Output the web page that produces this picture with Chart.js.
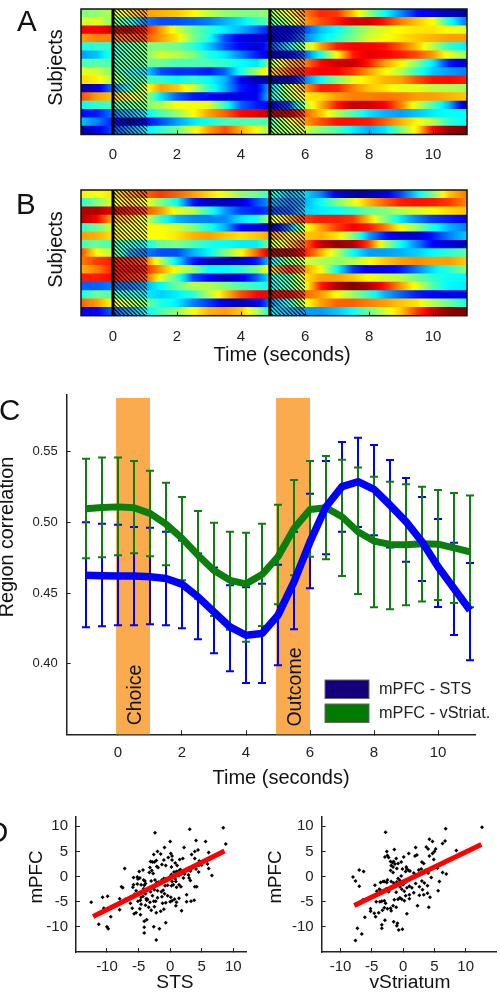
<!DOCTYPE html>
<html>
<head>
<meta charset="utf-8">
<title>Region correlation</title>
<script src="https://cdn.jsdelivr.net/npm/chart.js@4/dist/chart.umd.min.js"></script>
<style>
html, body { margin: 0; padding: 0; background: #fff; overflow: hidden; }
#page { position: relative; width: 500px; height: 995px; overflow: hidden; font-family: "Liberation Sans", sans-serif; }
canvas { position: absolute; }
.letter { position: absolute; font-size: 29.5px; line-height: 29.5px; color: #111; }
</style>
</head>
<body>
<div id="page">
	<canvas id="panel-a" width="500" height="175" style="left:0;top:0"></canvas>
	<canvas id="panel-b" width="500" height="195" style="left:0;top:175px"></canvas>
	<canvas id="panel-c" width="500" height="410" style="left:0;top:385px"></canvas>
	<canvas id="panel-d1" width="250" height="195" style="left:0;top:800px"></canvas>
	<canvas id="panel-d2" width="250" height="195" style="left:250px;top:800px"></canvas>
	<div class="letter" style="left:17px;top:6px">A</div>
	<div class="letter" style="left:16px;top:189px">B</div>
	<div class="letter" style="left:-1px;top:395px">C</div>
	<div class="letter" style="left:-13px;top:817px">D</div>
</div>
<script>
// each row: colour level 0-1 read every 0.5 s from -1 to 11
const rowsA = [
	[.5,.52,.55,.66,.72,.7,.68,.63,.56,.52,.5,.5,.53,.62,.75,.84,.82,.68,.52,.38,.26,.14,.1,.06,.04],
	[.58,.6,.5,.42,.25,.2,.2,.22,.25,.3,.35,.42,.47,.55,.72,.8,.85,.92,.92,.85,.75,.68,.62,.4,.25],
	[.88,.88,.92,.93,.85,.72,.58,.48,.42,.36,.3,.22,.12,.12,.2,.32,.38,.48,.55,.6,.63,.65,.65,.62,.6],
	[.72,.75,.75,.78,.8,.72,.65,.5,.4,.2,.1,.08,.1,.14,.25,.35,.42,.5,.58,.62,.65,.68,.7,.72,.72],
	[.4,.42,.42,.45,.5,.5,.48,.42,.32,.2,.12,.08,.2,.35,.55,.72,.85,.88,.88,.86,.78,.68,.55,.42,.36],
	[.28,.32,.42,.47,.5,.58,.55,.5,.4,.35,.25,.15,.08,.12,.22,.4,.62,.85,.9,.88,.85,.8,.72,.6,.53],
	[.45,.46,.46,.47,.48,.48,.45,.45,.45,.42,.38,.35,.55,.7,.75,.87,.92,.93,.85,.72,.63,.5,.35,.15,.08],
	[.6,.58,.5,.4,.35,.2,.17,.17,.15,.22,.4,.55,.68,.78,.85,.88,.88,.82,.72,.63,.55,.42,.32,.28,.25],
	[.66,.64,.55,.45,.45,.42,.38,.42,.38,.3,.12,.04,.06,.08,.25,.38,.5,.6,.65,.7,.72,.8,.86,.87,.85],
	[.03,.08,.25,.4,.6,.72,.68,.58,.42,.3,.15,.1,.35,.58,.72,.85,.84,.75,.68,.65,.6,.6,.56,.55,.53],
	[.8,.72,.68,.65,.55,.35,.22,.15,.13,.1,.1,.12,.38,.55,.65,.66,.72,.75,.75,.76,.75,.72,.72,.7,.68],
	[.38,.42,.44,.47,.5,.55,.62,.62,.6,.42,.22,.15,.12,.2,.55,.7,.85,.93,.92,.88,.75,.58,.45,.3,.06],
	[.13,.15,.25,.3,.36,.45,.52,.62,.72,.78,.87,.9,.95,.93,.78,.68,.55,.45,.35,.3,.28,.32,.36,.38,.38],
	[.32,.25,.15,.05,.12,.2,.28,.35,.4,.44,.45,.45,.45,.6,.72,.8,.86,.86,.85,.78,.7,.63,.55,.42,.38],
	[.03,.1,.2,.27,.35,.42,.48,.6,.72,.8,.7,.62,.5,.55,.58,.5,.45,.36,.3,.35,.5,.65,.88,.97,1]
]
const rowsB = [
	[.64,.62,.65,.72,.78,.82,.78,.72,.66,.6,.52,.48,.42,.3,.34,.25,.1,.05,.05,.1,.2,.35,.5,.68,.75],
	[.42,.5,.6,.68,.62,.5,.38,.15,.06,.06,.08,.2,.3,.25,.3,.38,.5,.6,.7,.78,.85,.86,.85,.82,.75],
	[.95,.95,.9,.86,.8,.72,.6,.55,.42,.28,.18,.15,.2,.22,.33,.36,.38,.42,.48,.5,.55,.58,.62,.66,.68],
	[.95,.88,.7,.68,.6,.42,.3,.26,.25,.26,.35,.4,.6,.7,.82,.85,.85,.82,.68,.5,.35,.25,.18,.15,.12],
	[.42,.48,.58,.62,.62,.62,.58,.5,.4,.3,.12,.08,.08,.25,.6,.72,.82,.88,.85,.75,.62,.52,.4,.3,.25],
	[.72,.7,.65,.63,.62,.62,.65,.7,.72,.68,.65,.68,.72,.65,.68,.7,.65,.5,.28,.15,.08,.08,.15,.25,.32],
	[.45,.47,.45,.42,.38,.48,.5,.45,.4,.38,.36,.36,.55,.68,.78,.93,.98,.95,.8,.55,.38,.25,.12,.08,.06],
	[.8,.62,.55,.3,.25,.2,.2,.3,.37,.5,.62,.78,.95,.95,.85,.7,.55,.38,.28,.28,.3,.33,.38,.42,.46],
	[.75,.82,.85,.84,.78,.55,.35,.15,.06,.05,.08,.15,.38,.5,.58,.55,.52,.55,.62,.68,.72,.74,.72,.72,.68],
	[.7,.75,.85,.88,.85,.72,.6,.52,.38,.38,.42,.5,.68,.82,.72,.62,.38,.18,.1,.1,.15,.25,.35,.42,.5],
	[.85,.85,.87,.82,.8,.6,.45,.2,.12,.06,.1,.22,.4,.45,.65,.72,.72,.68,.62,.58,.55,.48,.42,.38,.37],
	[.22,.22,.25,.25,.3,.38,.48,.55,.55,.5,.45,.42,.38,.45,.6,.85,.95,1,.95,.85,.72,.6,.45,.37,.36],
	[.4,.48,.45,.4,.36,.33,.36,.42,.55,.68,.8,.87,.88,.88,.78,.72,.62,.52,.42,.3,.22,.15,.12,.1,.1],
	[.78,.72,.62,.58,.5,.4,.36,.25,.18,.1,.05,.1,.28,.4,.6,.72,.78,.78,.75,.72,.68,.65,.55,.48,.4],
	[.1,.12,.22,.28,.36,.45,.52,.62,.7,.72,.68,.55,.35,.3,.28,.28,.32,.38,.48,.58,.68,.82,.92,.98,1]
]
const subjects = ["1","2","3","4","5","6","7","8","9","10","11","12","13","14","15"]
const heatStart = -1
const heatStep = 0.5
const heatEnd = 11.06
const heatTicks = [0,2,4,6,8,10]
const eventLines = [0, 4.9]
const hatchSpans = [[0, 1.07], [4.9, 6]]

const times = [-1,-0.5,0,0.5,1,1.5,2,2.5,3,3.5,4,4.5,5,5.5,6,6.5,7,7.5,8,8.5,9,9.5,10,10.5,11]
const stsMean = [.4626,.4622,.462,.462,.4615,.4603,.4563,.4473,.4366,.426,.4201,.4213,.4343,.4579,.4863,.5111,.5253,.5288,.5234,.5123,.5005,.4863,.4686,.4532,.4378]
const stsUpper = [.5002,.4991,.4983,.4967,.4962,.4934,.4872,.478,.468,.4556,.4541,.4565,.47,.4934,.5203,.5435,.557,.56,.5548,.5442,.5314,.518,.5024,.4856,.4712]
const stsLower = [.4258,.4265,.4272,.4272,.4279,.4272,.4251,.4173,.4073,.3946,.3863,.3863,.3988,.4243,.4534,.4775,.4934,.4967,.491,.4823,.4721,.4586,.4402,.4203,.4024]
const vsMean = [.5097,.5106,.511,.5104,.5064,.4988,.4887,.4768,.466,.459,.4565,.4631,.4757,.4957,.5092,.5104,.504,.4934,.4868,.4844,.4842,.4849,.4846,.482,.4792]
const vsUpper = [.545,.546,.546,.5435,.5366,.528,.518,.508,.4998,.4934,.4927,.499,.5125,.53,.5435,.547,.5444,.5388,.5324,.5288,.527,.5253,.523,.5208,.519]
const vsLower = [.4747,.4754,.4768,.4782,.476,.4697,.459,.446,.4338,.424,.4155,.4267,.442,.4626,.4757,.474,.462,.4494,.44,.4385,.4414,.444,.445,.443,.44]
const bandSpans = [[-0.06, 1], [4.94, 6]]
const bandLabels = ["Choice", "Outcome"]
const corrXTicks = [0,2,4,6,8,10]
const corrYTicks = [0.4,0.45,0.5,0.55]
const legendLabels = ["mPFC - STS", "mPFC - vStriat."]
const legendColors = ["#14007f", "#027a02"]

const stsPoints = [[-12.5,-5.1],[-10.7,-4.1],[-9.9,-3.9],[-10.5,-6.3],[-11.3,-9.5],[-10,-10],[-9.8,-10.4],[-9.4,-8],[-8,-4.4],[-7.5,-2.2],[-7.7,-2],[-7.2,1.6],[-8,-6.6],[-7.1,-4.5],[-6.3,-5.3],[-6,-6.3],[-5.7,-7.4],[-5.4,-7.2],[-4.7,-7.6],[-4.8,-6.4],[-4.1,-8.9],[-3.7,-8.6],[-4.1,-10.1],[-4.1,-11.2],[-2.6,-10],[-2.2,-12.6],[-1.7,-10.4],[-0.7,-9.2],[-2.4,8.7],[3.1,9.4],[8.4,9.7],[8.8,6.5],[0,7],[4.1,7.2],[5.6,7],[6.1,4.8],[6.6,0.2],[6.1,1.6],[5.9,2.5],
	[-4.9,1],[-4.3,1.3],[-5.8,-0.2],[-5.2,-0.1],[-5.1,-0.5],[-4.8,-0.3],[-5.8,-1.6],[-5.2,-1.5],[-4.6,-1.6],[-4.2,-0.7],[-4,-0.9],[-3.9,-1.4],[-4.1,-1.7],[-4.2,-2.4],[-4,-3],[-3.9,-3.4],[-4.3,-3.9],[-4.6,-4.1],[-3.8,-4.4],[-3.7,-4.7],[-3.2,-5.1],[-3.9,-5.7],[-3.4,-6.1],[-3,-6.7],[-2.5,-6],[-2.2,-7.2],[-1.5,-6.9],[-4.6,-5.5],
	[-3.1,3],[-2.8,2.9],[-2.5,2.9],[-2.2,3.2],[-2.6,4.4],[-2,5],[-1.5,4.5],[-1,3.3],[-1.3,2.4],[-0.7,2.2],[-0.9,5.8],[-2.1,2],[-1.9,1.8],[-3.2,1.8],[-3.3,0.8],[-2.9,1.2],[-2.7,0.6],[-3,-0.9],[-2.4,-0.7],[-2.1,-1.2],[-1.8,-1.1],[-1.3,-0.7],[-1,-0.4],[-0.7,-0.5],[-0.3,-0.3],[0,0],[0.2,0.4],[0.5,-0.1],[0.7,0.2],[1,0.6],[1.2,0.9],[1.4,1.1],[1.6,1.4],[0.8,-0.5],[-0.3,3.8],[0.1,4.6],[0.3,4.1],[0.3,3.3],[0.8,2.7],[1.1,2.2],[1.5,3.4],[2,3.6],[2.2,5.8],[3.2,1.1],[3.6,1.8],[3.4,4.4],[3.9,5],[4.4,5.3],[3.9,3.6],[4.6,3.1],[4.6,2.3],[5,2.3],[4.1,1.5],[4.5,0.9],[3,-0.3],[2.9,0.3],[2.3,0.5],[3.2,-0.8],
	[-2.5,-2.6],[-3.1,-3],[-2.9,-2.1],[-2,-2.8],[-1.4,-3],[-0.9,-3.4],[-1.1,-2.7],[-0.8,-1.8],[-0.4,-1.7],[0.2,-1.8],[0.5,-1.6],[1,-2.1],[1.4,-1.6],[1.7,-2],[0.1,-4.1],[0.3,-4.8],[0.7,-4.5],[1,-5.1],[1.4,-4.3],[1.8,-6.8],[2.6,-3.6],[2.6,-5],[3.3,-4.9],[3.8,-4.7],[0.9,-5.8],[0,-5],[-1.2,-5.3],[-2.3,-4.9],[-0.7,-5.2],[-1,-6.5],[-2.6,-4.9],[-3.6,-4.5],[3.9,-2],[4.2,-2],[-1.3,-4],[-0.4,-3.8],[-5.9,-2.1],[-6.2,-4],[-5.6,-3.5],[-5.1,-4.9],[-4.7,-4.7],[-5.4,-2.8],[-2.8,-3.8],[-2,-4.2],[1,1],[0.6,0.9],[0.2,1.9],[1.4,0.2],[2.1,-0.3],[1.7,0.5],[0.9,-1],[0.3,-1]]
const vsPoints = [[-8,-0.1],[-7.6,-0.9],[-7,-1.9],[-7,1.3],[-6.3,1],[-6.4,-4.6],[-6.1,-8.1],[-7.3,-10.3],[-6.6,-11.4],[-7.6,-12.7],[-2.8,8.8],[12.6,9.8],[6.8,9.5],[6.7,7.1],[6.3,6.6],[8.5,5.2],[4.2,7.4],[4.7,7],[6.9,0.5],[6.3,0.8],[5.5,1.7],[5.8,-1],[5.6,-2.8],[4.1,-6.1],[4.3,-4.1],[2.3,-5.8],[0.6,-7.4],[-0.1,-10.5],[-0.7,-10.6],[-1,-9.8],[-0.9,-9.3],[-1.5,-9],[-3.4,-9.6],[-3.4,-10.3],[-2.9,-8.7],
	[-5.2,-6.4],[-5.2,-6.9],[-4.6,-7.3],[-4.4,-8],[-3.9,-7.2],[-5.2,-4.2],[-5,-4],[-4.5,-1.7],[-4.2,-2.9],[-3.8,-2.5],[-3.6,-1.2],[-3.2,-1],[-3,-1],[-2.6,-1.2],[-2.5,-0.7],[-3.5,-3],[-3.1,-2.8],[-2.7,-2.4],[-4.3,-5],[-3.7,-5],[-3.4,-4.9],[-3,-4.8],[-2.8,-5.3],[-2,-6.3],[-1.9,-6.8],[-2.5,-6.4],[-3.3,-6.7],[-3,-6.2],[-1.6,-5.8],[-1.1,-6.1],[-1.4,-4.6],[-0.8,-4.5],[-0.5,-4.2],[-0.2,-4.5],[0.2,-4.8],[1,-4.4],[1,-3.6],[2.6,-3.7],[3.3,-3.6],[3.9,-3.3],
	[-2.9,3.9],[-2.5,4.2],[-2.6,5],[-2.3,3.8],[-2,3],[-1.7,2.8],[-1.5,3],[-1.9,2.2],[-1.6,1.9],[-1.3,2.5],[-1.4,5.4],[-1.1,3.6],[-0.8,2.6],[-0.3,2.9],[0.1,3.9],[0.9,4.6],[0.5,1.9],[0.6,1.5],[0.9,1.2],[1.1,1.1],[0.4,1],[-0.1,1.5],[-2,1.2],[-1.6,0.8],[-1,1.6],[2,5.8],[2.2,4.3],[1.9,4.1],[3,2.9],[3.3,2.6],[3.7,5.9],[4,5.5],[4.7,4.6],[5,5],[5.2,5.5],[4.2,4.1],[4.9,3.4],[2.5,1.3],[2.9,1.5],[3.4,0.8],[3.5,1.2],[4,0.7],[4.5,-0.2],[2,0.3],[1.7,0.7],
	[-1.9,-1],[-1.5,-1.3],[-1,-1.1],[-0.8,-0.4],[-0.5,-0.8],[-0.3,-1.2],[0,-1.6],[0.2,-1.3],[0.5,-1],[-0.5,-2],[-0.2,-2.5],[0.2,-2.9],[0.6,-2.2],[1,-1.9],[1.4,-2.2],[2,-1.4],[2.6,-2],[3.1,-2.6],[1.7,-3.2],[0.4,-3.8],[-1.1,-3.1],[-1.8,-2.2],[3,-0.9],[3.9,-1.8],[3.4,-1.3],[-3.6,-2.7],[-2.3,-3],[-0.3,0.1]]
const stsFitX = [-12.2, 8.6]
const stsFitY = [-7.95, 5.1]
const vsFitX = [-7.8, 12.5]
const vsFitY = [-5.76, 6.4]
const scatterXTicks = [-10,-5,0,5,10]
const scatterYTicks = [-10,-5,0,5,10]

const FONT = '"Liberation Sans", sans-serif'
const TICK_COLOR = "#222"

// matlab style jet colormap
function jet(v) {
	const c = (x) => Math.round(255 * Math.max(0, Math.min(1, x)))
	const r = c(1.5 - Math.abs(4 * v - 3))
	const g = c(1.5 - Math.abs(4 * v - 2))
	const b = c(1.5 - Math.abs(4 * v - 1))
	return `rgb(${r},${g},${b})`
}

function rowGradient(chart, row) {
	const xs = chart.scales.x
	if (!xs) return "#000"
	const x0 = xs.getPixelForValue(heatStart)
	const x1 = xs.getPixelForValue(heatStart + heatStep * (row.length - 1))
	// the scale has no size yet on the very first pass
	if (!isFinite(x0) || !isFinite(x1)) return "#000"
	const grad = chart.ctx.createLinearGradient(x0, 0, x1, 0)
	for (let i = 0; i < row.length - 1; i++) {
		// several stops per step so the colours follow the jet path
		for (let k = 0; k < 5; k++) {
			const f = k / 5
			grad.addColorStop((i + f) / (row.length - 1), jet(row[i] + (row[i + 1] - row[i]) * f))
		}
	}
	grad.addColorStop(1, jet(row[row.length - 1]))
	return grad
}

function hatchPattern(ctx) {
	const p = document.createElement("canvas")
	p.width = 4
	p.height = 4
	const pc = p.getContext("2d")
	pc.fillStyle = "rgba(0,0,0,0.72)"
	for (let i = 0; i < 4; i++) {
		pc.fillRect(i, i, 1, 1)
		pc.fillRect((i + 1) % 4, i, 1, 1)
	}
	return ctx.createPattern(p, "repeat")
}

// the tick padding would otherwise push the plot area in by a lot
function fixAxis(s, size) {
	if (s.isHorizontal()) s.height = size
	else s.width = size
	s.paddingTop = 0
	s.paddingBottom = 0
	s.paddingLeft = 0
	s.paddingRight = 0
}

// axis titles sit off centre in the original, so they are placed by hand
function titlesPlugin(items) {
	return {
		id: "titles",
		afterDraw(chart) {
			const ctx = chart.ctx
			ctx.save()
			ctx.fillStyle = "#111"
			ctx.textAlign = "center"
			ctx.textBaseline = "middle"
			items.forEach(t => {
				ctx.save()
				ctx.font = `${t.size}px ${FONT}`
				ctx.translate(t.x, t.y)
				if (t.rotate) ctx.rotate(-Math.PI / 2)
				ctx.fillText(t.text, 0, 0)
				ctx.restore()
			})
			ctx.restore()
		}
	}
}

// hatched windows, event lines and the frame on top of the heat rows
const heatOverlay = {
	id: "heatOverlay",
	afterDatasetsDraw(chart) {
		const { ctx, chartArea: a, scales: { x } } = chart
		ctx.save()
		ctx.fillStyle = hatchPattern(ctx)
		hatchSpans.forEach(s => {
			const l = x.getPixelForValue(s[0])
			ctx.fillRect(l, a.top, x.getPixelForValue(s[1]) - l, a.bottom - a.top)
		})
		ctx.fillStyle = "#000"
		eventLines.forEach(t => {
			ctx.fillRect(x.getPixelForValue(t) - 1.5, a.top, 3, a.bottom - a.top)
		})
		ctx.strokeStyle = "#111"
		ctx.lineWidth = 1.5
		ctx.strokeRect(a.left, a.top, a.right - a.left, a.bottom - a.top)
		ctx.restore()
	}
}

function heatChart(id, rows, opts) {
	return new Chart(document.getElementById(id).getContext("2d"), {
		type: "bar",
		data: {
			labels: subjects,
			datasets: [{
				data: rows.map(() => [heatStart, heatEnd]),
				backgroundColor: (c) => rowGradient(c.chart, rows[c.dataIndex]),
				barPercentage: 1,
				categoryPercentage: 1,
				borderWidth: 0
			}]
		},
		plugins: [heatOverlay, titlesPlugin(opts.titles)],
		options: {
			indexAxis: "y",
			responsive: false,
			animation: false,
			layout: { padding: { top: opts.top, right: 33, left: 0, bottom: 0 } },
			plugins: { legend: { display: false }, tooltip: { enabled: false } },
			scales: {
				x: {
					type: "linear",
					min: heatStart,
					max: heatEnd,
					afterBuildTicks: s => { s.ticks = heatTicks.map(value => ({ value })) },
					afterFit: s => fixAxis(s, opts.axisHeight),
					border: { display: false },
					grid: { drawOnChartArea: false, tickLength: -4, tickColor: "#111", z: 1, tickWidth: 1 },
					ticks: { font: { family: FONT, size: 15 }, color: TICK_COLOR, padding: opts.tickPad, maxRotation: 0, autoSkip: false }
				},
				y: {
					type: "category",
					afterFit: s => fixAxis(s, 81),
					border: { display: false },
					grid: { display: false },
					ticks: { display: false }
				}
			}
		}
	})
}

heatChart("panel-a", rowsA, {
	top: 9, axisHeight: 40.5, tickPad: 15,
	titles: [{ text: "Subjects", x: 56, y: 67.5, size: 20, rotate: true }]
})
heatChart("panel-b", rowsB, {
	top: 15, axisHeight: 54.3, tickPad: 16,
	titles: [
		{ text: "Subjects", x: 56, y: 74.5, size: 20, rotate: true },
		{ text: "Time (seconds)", x: 282, y: 180, size: 20 }
	]
})

// orange bands and error bars sit under the two thick lines
const corrUnderlay = {
	id: "corrUnderlay",
	beforeDatasetsDraw(chart) {
		const { ctx, scales: { x, y } } = chart
		ctx.save()
		ctx.fillStyle = "#f9ab4e"
		bandSpans.forEach(s => {
			const l = x.getPixelForValue(s[0])
			ctx.fillRect(l, 13, x.getPixelForValue(s[1]) - l, chart.chartArea.bottom - 13)
		})
		ctx.fillStyle = "#111"
		ctx.font = `19.5px ${FONT}`
		ctx.textAlign = "center"
		ctx.textBaseline = "middle"
		const labelY = [310, 302]
		bandLabels.forEach((t, i) => {
			const cx = x.getPixelForValue((bandSpans[i][0] + bandSpans[i][1]) / 2)
			ctx.save()
			ctx.translate(cx + 3, labelY[i])
			ctx.rotate(-Math.PI / 2)
			ctx.fillText(t, 0, 0)
			ctx.restore()
		})
		const drawBars = (upper, lower, color) => {
			ctx.strokeStyle = color
			ctx.lineWidth = 2
			times.forEach((t, i) => {
				const px = x.getPixelForValue(t)
				const hi = y.getPixelForValue(upper[i])
				const lo = y.getPixelForValue(lower[i])
				ctx.beginPath()
				ctx.moveTo(px, hi)
				ctx.lineTo(px, lo)
				ctx.moveTo(px - 4, hi)
				ctx.lineTo(px + 4, hi)
				ctx.moveTo(px - 4, lo)
				ctx.lineTo(px + 4, lo)
				ctx.stroke()
			})
		}
		drawBars(stsUpper, stsLower, "#0000ff")
		drawBars(vsUpper, vsLower, "#0b7f0b")
		ctx.restore()
	},
	afterDatasetsDraw(chart) {
		const { ctx } = chart
		ctx.save()
		const boxLeft = 325
		const tops = [295, 319]
		legendLabels.forEach((t, i) => {
			ctx.fillStyle = legendColors[i]
			ctx.fillRect(boxLeft, tops[i], 44, 18.5)
			ctx.strokeStyle = "#666"
			ctx.lineWidth = 1
			ctx.strokeRect(boxLeft, tops[i], 44, 18.5)
			ctx.fillStyle = "#222"
			ctx.font = `16.3px ${FONT}`
			ctx.textAlign = "left"
			ctx.textBaseline = "middle"
			ctx.fillText(t, 379, tops[i] + 10)
		})
		ctx.restore()
	}
}

new Chart(document.getElementById("panel-c").getContext("2d"), {
	type: "line",
	data: {
		labels: times,
		datasets: [{
			label: legendLabels[0],
			data: times.map((t, i) => ({ x: t, y: stsMean[i] })),
			borderColor: "#0000ff",
			borderWidth: 7.5,
			pointRadius: 0,
			tension: 0,
			borderJoinStyle: "round"
		}, {
			label: legendLabels[1],
			data: times.map((t, i) => ({ x: t, y: vsMean[i] })),
			borderColor: "#0b7f0b",
			borderWidth: 7,
			pointRadius: 0,
			tension: 0,
			borderJoinStyle: "round"
		}]
	},
	plugins: [corrUnderlay, titlesPlugin([
		{ text: "Region correlation", x: 8, y: 152, size: 19.8, rotate: true },
		{ text: "Time (seconds)", x: 281, y: 393, size: 20 }
	])],
	options: {
		responsive: false,
		animation: false,
		layout: { padding: { top: 10, right: 25, left: 0, bottom: 0 } },
		plugins: { legend: { display: false }, tooltip: { enabled: false } },
		scales: {
			x: {
				type: "linear",
				min: -1.603,
				max: 11.156,
				afterBuildTicks: s => { s.ticks = corrXTicks.map(value => ({ value })) },
				afterFit: s => fixAxis(s, 60.7),
				border: { display: true, color: "#222", width: 1.5 },
				grid: { drawOnChartArea: false, tickLength: -4, tickColor: "#222" },
				ticks: { font: { family: FONT, size: 15 }, color: TICK_COLOR, padding: 14, maxRotation: 0, autoSkip: false }
			},
			y: {
				type: "linear",
				min: 0.35,
				max: 0.5902,
				afterBuildTicks: s => { s.ticks = corrYTicks.map(value => ({ value })) },
				afterFit: s => fixAxis(s, 66.7),
				border: { display: true, color: "#222", width: 1.5 },
				grid: { drawOnChartArea: false, tickLength: -4, tickColor: "#222" },
				ticks: { font: { family: FONT, size: 13 }, color: TICK_COLOR, padding: 13, callback: v => v.toFixed(2) }
			}
		}
	}
})

function scatterChart(id, points, fitX, fitY, o) {
	return new Chart(document.getElementById(id).getContext("2d"), {
		type: "scatter",
		data: {
			datasets: [{
				data: fitX.map((x, i) => ({ x, y: fitY[i] })),
				showLine: true,
				borderColor: "#ff0000",
				borderWidth: 5,
				pointRadius: 0
			}, {
				data: points.map(p => ({ x: p[0], y: p[1] })),
				pointStyle: "rectRot",
				pointRadius: 2,
				backgroundColor: "#000",
				borderWidth: 0
			}]
		},
		plugins: [titlesPlugin(o.titles)],
		options: {
			responsive: false,
			animation: false,
			layout: { padding: { top: 17, right: o.right, left: 0, bottom: 0 } },
			plugins: { legend: { display: false }, tooltip: { enabled: false } },
			scales: {
				x: {
					type: "linear",
					min: o.xMin,
					max: o.xMax,
					afterBuildTicks: s => { s.ticks = scatterXTicks.map(value => ({ value })) },
					afterFit: s => fixAxis(s, 43),
					border: { display: true, color: "#222", width: 1.5 },
					grid: { drawOnChartArea: false, tickLength: -4, tickColor: "#222" },
					ticks: { font: { family: FONT, size: 15 }, color: TICK_COLOR, padding: 10, maxRotation: 0, autoSkip: false }
				},
				y: {
					type: "linear",
					min: -15,
					max: 11.85,
					afterBuildTicks: s => { s.ticks = scatterYTicks.map(value => ({ value })) },
					afterFit: s => fixAxis(s, o.left),
					border: { display: true, color: "#222", width: 1.5 },
					grid: { drawOnChartArea: false, tickLength: -4, tickColor: "#222" },
					ticks: { font: { family: FONT, size: 15 }, color: TICK_COLOR, padding: 12 }
				}
			}
		}
	})
}

scatterChart("panel-d1", stsPoints, stsFitX, stsFitY, {
	left: 76, right: 2, xMin: -14.9, xMax: 12,
	titles: [
		{ text: "mPFC", x: 36.5, y: 77, size: 18.8, rotate: true },
		{ text: "STS", x: 175, y: 183, size: 19.2 }
	]
})
scatterChart("panel-d2", vsPoints, vsFitX, vsFitY, {
	left: 71.7, right: 0, xMin: -13, xMax: 14.84,
	titles: [
		{ text: "mPFC", x: 26, y: 77, size: 18.8, rotate: true },
		{ text: "vStriatum", x: 160, y: 183, size: 19.2 }
	]
})
</script>
</body>
</html>
